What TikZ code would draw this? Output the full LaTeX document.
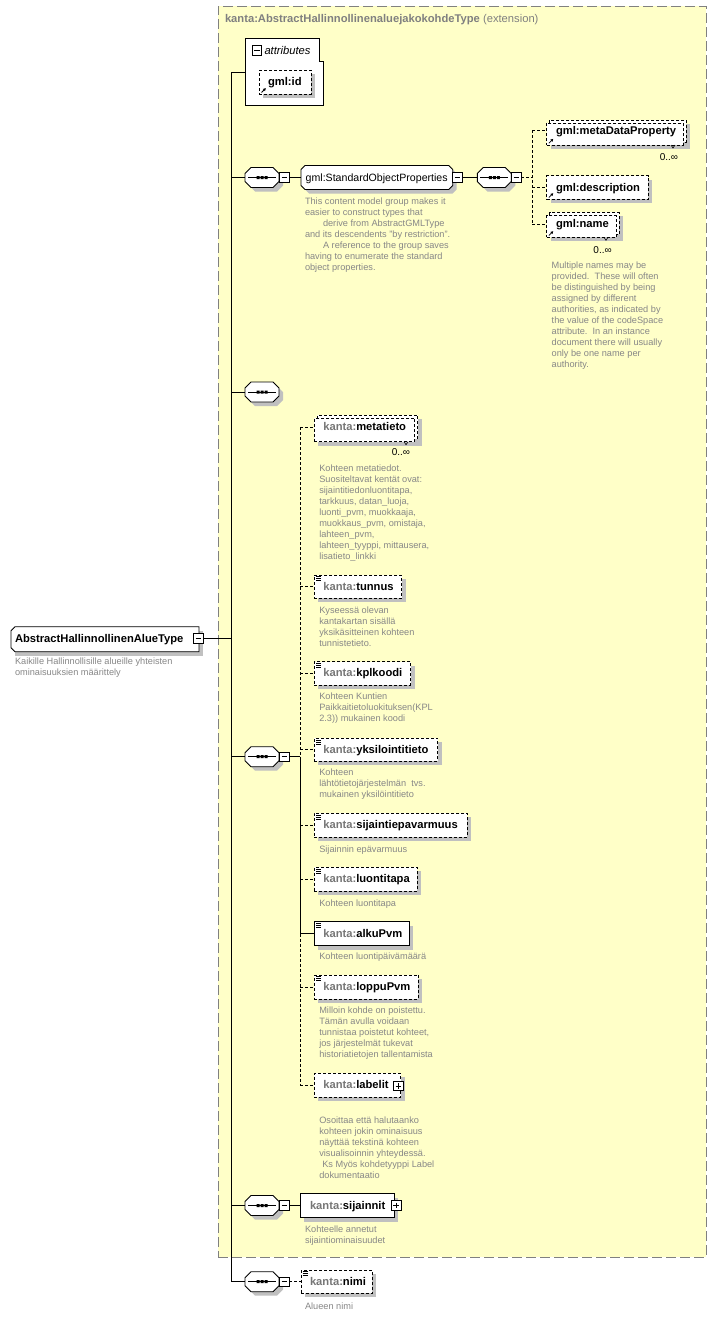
\documentclass[tikz,border=0pt]{standalone}
\usepackage{fontspec}
\setmainfont{Liberation Sans}
\usetikzlibrary{arrows.meta}
\definecolor{yellowc}{RGB}{255,255,200}
\definecolor{bordc}{RGB}{128,128,128}
\definecolor{shadowc}{RGB}{192,192,192}
\definecolor{annc}{RGB}{135,135,135}
\definecolor{prec}{RGB}{118,118,118}
\definecolor{titlec}{RGB}{128,128,128}
\newcommand\lblfont{\fontsize{11.2}{13}\selectfont}
\newcommand\annfont{\fontsize{9.2}{11}\selectfont}
\newcommand\pre[1]{\textcolor{prec}{#1}}
% element box: name, style, x1, y1, x2, y2 (y downwards)
\newcommand\xElBox[6]{%
  \fill[shadowc] (#3+4,#4+4) rectangle (#5+4,#6+4);
  \node[#2, minimum width={#5-#3}, minimum height={#6-#4}] (#1) at (#3,#4) {};}
% multiple-occurrence element: front box given
\newcommand\xElMulti[6]{%
  \fill[shadowc] (#3+4,#4+1) rectangle (#5+7,#6+4);
  \node[#2, minimum width={#5-#3}, minimum height={#6-#4}] (#1b) at (#3+3,#4-3) {};
  \node[#2, minimum width={#5-#3}, minimum height={#6-#4}] (#1) at (#3,#4) {};}
% sequence compositor
\newcommand\xSeq[3]{%
  \fill[shadowc] (#2-7,#3-6) -- (#2+15,#3-6) -- (#2+21,#3) -- (#2+21,#3+8) -- (#2+15,#3+14) -- (#2-7,#3+14) -- (#2-13,#3+8) -- (#2-13,#3) -- cycle;
  \node[minimum width=34pt, minimum height=20pt] (#1) at (#2,#3) {};
  \draw[fill=white, line width=0.9pt] (#2-11,#3-10) -- (#2+11,#3-10) -- (#2+17,#3-4) -- (#2+17,#3+4) -- (#2+11,#3+10) -- (#2-11,#3+10) -- (#2-17,#3+4) -- (#2-17,#3-4) -- cycle;
  \draw[line width=0.9pt] (#2-14,#3) -- (#2+14,#3);
  \fill (#2-5.5,#3-1.5) rectangle (#2-2.5,#3+1.5) (#2-1.5,#3-1.5) rectangle (#2+1.5,#3+1.5) (#2+2.5,#3-1.5) rectangle (#2+5.5,#3+1.5);}
\newcommand\xMinus[3]{%
  \node[draw, fill=white, line width=0.9pt, minimum size=9.5pt] (#1) at (#2,#3) {};
  \draw[line width=0.9pt] (#2-2.8,#3) -- (#2+2.8,#3);}
\newcommand\xPlus[3]{\xMinus{#1}{#2}{#3}\draw[line width=0.9pt] (#2,#3-2.8) -- (#2,#3+2.8);}
\newcommand\xSType[2]{\draw[line width=0.7pt] (#1+1.7,#2+1.6) -- ++(5,0) (#1+1.7,#2+3.6) -- ++(5,0) (#1+1.7,#2+5.6) -- ++(5,0);}
\newcommand\xRef[2]{\draw[line width=0.8pt, -{Triangle[length=2.6pt,width=2.8pt]}] (#1+2.2,#2-1.8) -- (#1+6.5,#2-6.1);}
\newcommand\xTick[2]{\draw[line width=0.6pt] (#1-2,#2) -- (#1,#2+3) -- (#1+2,#2);}

\begin{document}
\begin{tikzpicture}[x=1pt,y=-1pt,
  every node/.style={inner sep=0pt, outer sep=0pt},
  lbl/.style={anchor=base west, font=\lblfont\bfseries},
  ann/.style={anchor=north west, align=left, font=\annfont, text=annc},
  occ/.style={anchor=base east, font=\fontsize{10}{12}\selectfont},
  conn/.style={line width=0.9pt},
  dconn/.style={line width=0.9pt, dash pattern=on 3pt off 2pt},
  elsolid/.style={draw, fill=white, line width=0.9pt, anchor=north west, rectangle},
  eldash/.style={elsolid, dash pattern=on 3pt off 2pt}]
\fill[white] (0,0) rectangle (716,1317);
\useasboundingbox (0,0) rectangle (716,1317);

% extension region
\node[draw=bordc, fill=yellowc, line width=0.9pt, dash pattern=on 10pt off 4pt, anchor=north west, minimum width=488pt, minimum height=1251pt] (ext) at (218,6) {};
\node[anchor=base west, font=\lblfont, text=titlec] (title) at (225,23) {\textbf{kanta:AbstractHallinnollinenaluejakokohdeType} (extension)};

% attributes
\draw[fill=white, line width=0.9pt] (245,38) -- (319,38) -- (319,61) -- (323,61) -- (323,105) -- (245,105) -- cycle;
\coordinate (attrW) at (245,72.7);
\xMinus{attrm}{256.8}{50.3}
\node[anchor=base west, font=\lblfont\itshape] (attrt) at (264.5,54) {attributes};
\xElBox{gid}{eldash}{259.3}{70.3}{311}{94.3}
\xRef{259.3}{94.3}
\node[lbl] (gidt) at (268,85.8) {gml:id};

% root
\fill[shadowc] (15,630.7) rectangle (203,655.7);
\draw[fill=white, line width=0.9pt] (15,626.7) -- (199,626.7) -- (199,651.7) -- (15,651.7) -- (11,647.7) -- (11,630.7) -- cycle;
\node[minimum width=188pt, minimum height=25pt, anchor=north west] (root) at (11,626.7) {};
\xMinus{rootm}{198.3}{638.3}
\node[lbl] (roott) at (15,642.7) {AbstractHallinnollinenAlueType};
\node[ann, font=\fontsize{9.2}{10.3}\selectfont] (roota) at (15,658.3) {Kaikille Hallinnollisille alueille yhteisten\\ominaisuuksien määrittely};

% standard object properties
\xSeq{s1}{262}{177.5}
\xMinus{s1m}{284.5}{177.5}
\fill[shadowc] (309,169.5) -- (452.7,169.5) -- (456.7,173.5) -- (456.7,189.5) -- (452.7,193.5) -- (309,193.5) -- (305,189.5) -- (305,173.5) -- cycle;
\draw[fill=white, line width=0.9pt] (305,165.5) -- (448.7,165.5) -- (452.7,169.5) -- (452.7,185.5) -- (448.7,189.5) -- (305,189.5) -- (301,185.5) -- (301,169.5) -- cycle;
\node[minimum width=151.7pt, minimum height=24pt, anchor=north west] (grp) at (301,165.5) {};
\xMinus{grpm}{457.5}{177.5}
\node[anchor=base west, font=\fontsize{10.6}{13}\selectfont] (grpt) at (305.7,181.2) {gml:StandardObjectProperties};
\node[ann] (grpa) at (305,197.4) {This content model group makes it\\easier to construct types that\\\hspace*{18pt}derive from AbstractGMLType\\and its descendents "by restriction".\\\hspace*{18pt}A reference to the group saves\\having to enumerate the standard\\object properties.};
\xSeq{s2}{494.3}{177.5}
\xMinus{s2m}{516.3}{177.5}

\xElMulti{mdp}{eldash}{546.7}{123}{683}{145}
\xRef{546.7}{145}
\xTick{673}{145}
\node[lbl] (mdpt) at (556,134.2) {gml:metaDataProperty};
\node[occ] (mdpo) at (678,160.4) {0..∞};
\xElBox{desc}{eldash}{546.7}{175.7}{648.3}{199.3}
\xRef{546.7}{199.3}
\node[lbl] (desct) at (556,191.3) {gml:description};
\xElMulti{nm}{eldash}{546.7}{215.3}{616}{237.3}
\xRef{546.7}{237.3}
\xTick{606}{237.3}
\node[lbl] (nmt) at (556,227.8) {gml:name};
\node[occ] (nmo) at (611.7,253.7) {0..∞};
\node[ann] (nma) at (551.7,261.5) {Multiple names may be\\provided.\ \ These will often\\be distinguished by being\\assigned by different\\authorities, as indicated by\\the value of the codeSpace\\attribute.\ \ In an instance\\document there will usually\\only be one name per\\authority.};

% empty sequence
\xSeq{s3}{262}{392}

% main sequence
\xSeq{sm}{262}{756.7}
\xMinus{smm}{284.5}{756.7}

\xElMulti{meta}{eldash}{314.3}{418}{414.7}{441.7}
\xTick{406}{441.7}
\node[lbl] (metat) at (323.3,430.8) {\pre{kanta:}metatieto};
\node[occ] (metao) at (410,455.5) {0..∞};
\node[ann] (metaa) at (319.3,464.8) {Kohteen metatiedot.\\Suositeltavat kentät ovat:\\sijaintitiedonluontitapa,\\tarkkuus, datan\_luoja,\\luonti\_pvm, muokkaaja,\\muokkaus\_pvm, omistaja,\\lahteen\_pvm,\\lahteen\_tyyppi, mittausera,\\lisatieto\_linkki};

\xElBox{tun}{eldash}{314.3}{575}{401.7}{598.3}
\xSType{314.3}{575}
\node[lbl] (tunt) at (323.3,590.2) {\pre{kanta:}tunnus};
\node[ann] (tuna) at (319.3,606.5) {Kyseessä olevan\\kantakartan sisällä\\yksikäsitteinen kohteen\\tunnistetieto.};

\xElBox{kpl}{eldash}{314.3}{661.7}{410.7}{685}
\xSType{314.3}{661.7}
\node[lbl] (kplt) at (323.3,676.9) {\pre{kanta:}kplkoodi};
\node[ann] (kpla) at (319.3,692.8) {Kohteen Kuntien\\Paikkaitietoluokituksen(KPL\\2.3)) mukainen koodi};

\xElBox{yks}{eldash}{314.3}{738.3}{437.7}{761}
\xSType{314.3}{738.3}
\node[lbl] (ykst) at (323.3,753.2) {\pre{kanta:}yksilointitieto};
\node[ann] (yksa) at (319.3,768.8) {Kohteen\\lähtötietojärjestelmän\ \ tvs.\\mukainen yksilöintitieto};

\xElBox{sep}{eldash}{314.3}{813.3}{467.3}{837.3}
\xSType{314.3}{813.3}
\node[lbl] (sept) at (323.3,828.8) {\pre{kanta:}sijaintiepavarmuus};
\node[ann] (sepa) at (319.3,845.5) {Sijainnin epävarmuus};

\xElBox{luo}{eldash}{314.3}{867.3}{417.3}{891}
\xSType{314.3}{867.3}
\node[lbl] (luot) at (323.3,882.7) {\pre{kanta:}luontitapa};
\node[ann] (luoa) at (319.3,899.5) {Kohteen luontitapa};

\xElBox{alk}{elsolid}{314.3}{921.7}{409.3}{945.7}
\xSType{314.3}{921.7}
\node[lbl] (alkt) at (323.3,937.2) {\pre{kanta:}alkuPvm};
\node[ann] (alka) at (319.3,952.8) {Kohteen luontipäivämäärä};

\xElBox{lop}{eldash}{314.3}{975}{418.3}{999.3}
\xSType{314.3}{975}
\node[lbl] (lopt) at (323.3,990.7) {\pre{kanta:}loppuPvm};
\node[ann] (lopa) at (319.3,1006.5) {Milloin kohde on poistettu.\\Tämän avulla voidaan\\tunnistaa poistetut kohteet,\\jos järjestelmät tukevat\\historiatietojen tallentamista};

\xElBox{lab}{eldash}{314.3}{1073.3}{400.7}{1097.3}
\xPlus{labp}{398.5}{1086}
\node[lbl] (labt) at (323.3,1088.8) {\pre{kanta:}labelit};
\node[ann] (laba) at (319.3,1116.5) {Osoittaa että halutaanko\\kohteen jokin ominaisuus\\näyttää tekstinä kohteen\\visualisoinnin yhteydessä.\\\hspace*{3pt}Ks Myös kohdetyyppi Label\\dokumentaatio};

% sijainnit
\xSeq{s4}{262}{1205.5}
\xMinus{s4m}{284.5}{1205.5}
\xElBox{sij}{elsolid}{300}{1193.5}{394.3}{1217.5}
\xPlus{sijp}{396.2}{1205.5}
\node[lbl] (sijt) at (310,1209) {\pre{kanta:}sijainnit};
\node[ann] (sija) at (305,1225.5) {Kohteelle annetut\\sijaintiominaisuudet};

% nimi
\xSeq{s5}{262}{1281.7}
\xMinus{s5m}{284.5}{1281.7}
\xElBox{nimi}{eldash}{301}{1270.2}{372.3}{1293.2}
\xSType{301}{1270.2}
\node[lbl] (nimit) at (310,1285.2) {\pre{kanta:}nimi};
\node[ann] (nimia) at (305,1302.8) {Alueen nimi};

% connectors
\coordinate (tA) at (231,72.7);
\coordinate (tR) at (231,638.3);
\coordinate (tN) at (231,1281.7);
\draw[conn] (tA) -- (tN);
\draw[conn] (tA) -- (attrW);
\draw[conn] (rootm.east) -- (tR);
\foreach \s in {s1,s3,sm,s4,s5} \draw[conn] (tA |- \s.west) -- (\s.west);
\draw[conn] (s1m.east) -- (grp.west);
\draw[conn] (grpm.east) -- (s2.west);
\coordinate (v2) at (532,177.5);
\coordinate (v2a) at (532,130);
\coordinate (v2c) at (532,224);
\draw[dconn] (s2m.east) -- (v2);
\draw[dconn] (v2a) -- (v2c);
\draw[dconn] (v2a) -- (v2a -| mdp.west);
\draw[dconn] (v2 |- desc.west) -- (desc.west);
\draw[dconn] (v2c) -- (v2c -| nm.west);

\coordinate (mv) at (300,756.7);
\coordinate (b1) at (300,427.3);
\draw[conn] (smm.east) -- (mv);
\draw[dconn] (b1) -- (mv);
\draw[conn] (mv) -- (mv |- alk.west);
\draw[dconn] (mv |- alk.west) -- (mv |- lab.west);
\draw[dconn] (b1) -- (b1 -| meta.west);
\foreach \n in {tun,kpl,yks,sep,luo,lop,lab} \draw[dconn] (mv |- \n.west) -- (\n.west);
\draw[conn] (mv |- alk.west) -- (alk.west);
\draw[conn] (s4m.east) -- (sij.west);
\draw[dconn] (s5m.east) -- (nimi.west);
\end{tikzpicture}
\end{document}
